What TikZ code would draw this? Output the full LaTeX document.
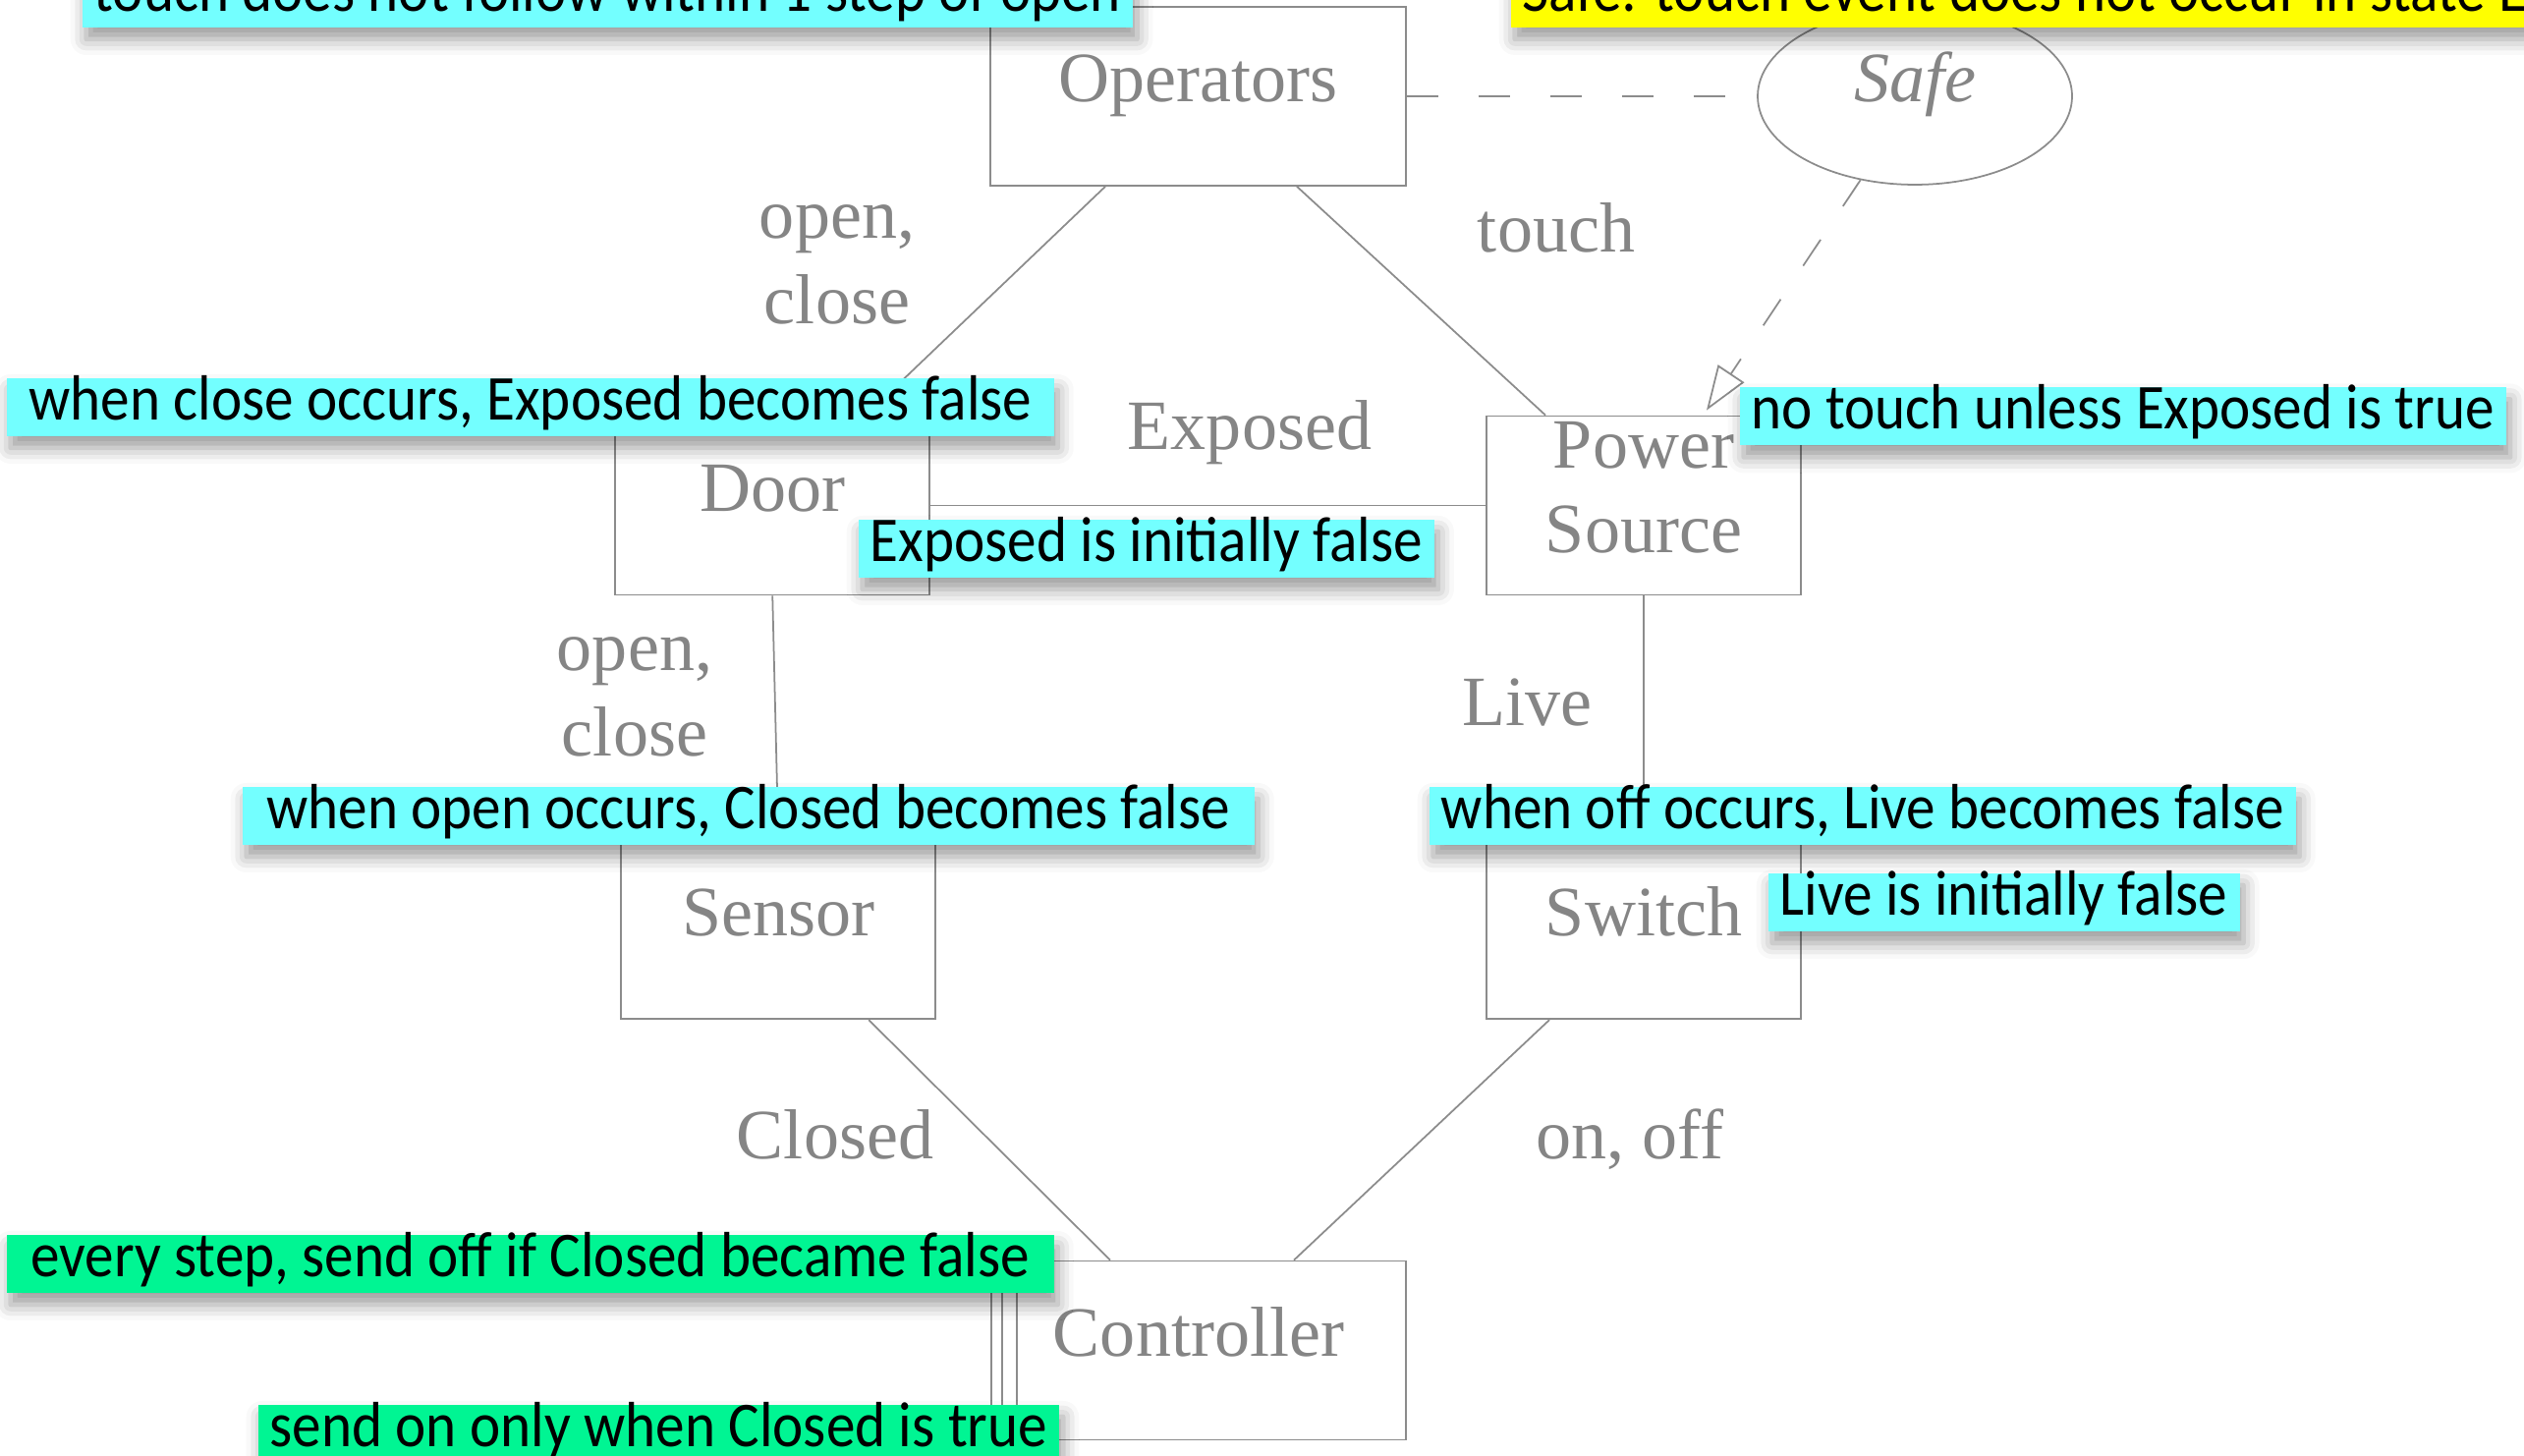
\documentclass[tikz,border=0pt]{standalone}
\usepackage{fontspec}
\usepackage{tikz}
\usetikzlibrary{shapes,arrows.meta,positioning,calc,shadows.blur}
\newfontfamily\grayserif{Liberation Serif}
\newfontfamily\notesans[FakeStretch=0.91]{Carlito}
\newcommand{\grayfont}{\grayserif\fontsize{20.5pt}{24.5pt}\selectfont}
\newcommand{\notefont}{\notesans\fontsize{18.5pt}{21pt}\selectfont}
\definecolor{linegray}{HTML}{8C8C8C}
\definecolor{textgray}{HTML}{858585}
\definecolor{notecyan}{HTML}{73FFFF}
\definecolor{notegreen}{HTML}{00F593}
\definecolor{noteyellow}{HTML}{FFFF00}

\begin{document}
\begin{tikzpicture}[
    blk/.style={draw=linegray, line width=0.5pt, rectangle, minimum width=3.2cm, minimum height=1.82cm, inner sep=0pt, text=textgray, font=\grayfont, text height=5mm, text depth=3.8mm},
    lbl/.style={inner sep=0pt, text=textgray, align=center, font=\grayfont},
    wire/.style={draw=linegray, line width=0.5pt},
    dashwire/.style={wire, dash pattern=on 3.2mm off 4.1mm},
    note/.style={anchor=west, fill=#1, text=black, inner xsep=1.2mm, inner ysep=0.05mm, minimum height=5.9mm, text height=4.2mm, text depth=1.6mm, font=\notefont, blur shadow={shadow xshift=0.4mm, shadow yshift=-1.2mm, shadow blur radius=1.6mm}}
]
    \useasboundingbox (0,0) rectangle (25.69,14.82);
    \clip (0,0) rectangle (25.69,14.82);

    \node [blk, minimum width=4.23cm] (Ops) at (12.195,13.84) {Operators};
    \node [blk, ellipse, minimum width=3.2cm, minimum height=1.8cm] (Safe) at (19.49,13.84) {\itshape Safe};
    \node [blk] (Power) at (16.73,9.675) {};
    \node [lbl, anchor=north] (PowerTxt) at ([yshift=0.7mm]Power.north) {\strut Power\\Source};
    \node [blk, left=5.65cm of Power] (Door) {Door};
    \node [blk, below=2.48cm of Power] (Switch) {Switch};
    \node [blk, below=2.48cm of Door, xshift=0.6mm] (Sensor) {Sensor};
    \node [blk, minimum width=4.22cm] (Ctrl) at (12.20,1.075) {Controller};

    \draw [wire] ([xshift=-9.45mm]Ops.south) -- ([xshift=9.5mm]Door.north);
    \draw [wire] ([xshift=10.05mm]Ops.south) -- ([xshift=-10mm]Power.north);
    \draw [wire] (Door.east) -- (Power.west);
    \draw [wire] (Door.south) -- (Sensor.north);
    \draw [wire] (Power.south) -- (Switch.north);
    \draw [wire] ([xshift=9.2mm]Sensor.south) -- ([xshift=-9mm]Ctrl.north);
    \draw [wire] ([xshift=-9.6mm]Switch.south) -- ([xshift=9.7mm]Ctrl.north);
    \draw [wire] ([xshift=1.2mm]Ctrl.north west) -- ([xshift=1.2mm]Ctrl.south west);
    \draw [wire] ([xshift=2.7mm]Ctrl.north west) -- ([xshift=2.7mm]Ctrl.south west);
    \draw [dashwire] (Ops.east) -- (Safe.west);
    \draw [dashwire, -{Triangle[open, length=4.5mm, width=3.2mm]}] (Safe.237) -- ([xshift=6.4mm, yshift=0.5mm]Power.north);

    \node [lbl, anchor=north] (OpenClose) at (8.52,13.00) {\strut open,\\close};
    \node [lbl, anchor=base] (Touch) at (15.84,12.25) {touch};
    \node [lbl, anchor=base] (Exposed) at (12.72,10.24) {Exposed};
    \node [lbl, anchor=north] (OpenCloseB) at (6.46,8.60) {\strut open,\\close};
    \node [lbl, anchor=base] (Live) at (15.54,7.43) {Live};
    \node [lbl, anchor=base] (Closed) at (8.50,3.02) {Closed};
    \node [lbl, anchor=base] (OnOff) at (16.59,3.02) {on, off};

    \node [note=notecyan, minimum width=10.65cm] (NoteTouch) at (0.83,14.835) {touch does not follow within 1 step of open};
    \node [note=noteyellow, text width=11.8cm, align=flush left] (NoteSafe) at (15.37,14.835) {Safe: touch event does not occur in state E};
    \node [note=notecyan, minimum width=10.66cm] (NoteClose) at (0.06,10.675) {when close occurs, Exposed becomes false\hspace{1.8mm}};
    \node [note=notecyan, minimum width=5.77cm] (NoteExpInit) at (8.73,9.235) {Exposed is initially false};
    \node [note=notecyan, minimum width=7.73cm] (NoteNoTouch) at (17.70,10.58) {no touch unless Exposed is true};
    \node [note=notecyan, minimum width=10.30cm] (NoteOpen) at (2.46,6.515) {when open occurs, Closed becomes false\hspace{1.8mm}};
    \node [note=notecyan, minimum width=8.81cm] (NoteOff) at (14.54,6.515) {when off occurs, Live becomes false};
    \node [note=notecyan, minimum width=4.70cm] (NoteLiveInit) at (17.99,5.635) {Live is initially false};
    \node [note=notegreen, minimum width=10.66cm] (NoteStep) at (0.06,1.955) {every step, send off if Closed became false\hspace{1.8mm}};
    \node [note=notegreen, minimum width=8.12cm] (NoteSendOn) at (2.62,0.225) {send on only when Closed is true};
\end{tikzpicture}
\end{document}
